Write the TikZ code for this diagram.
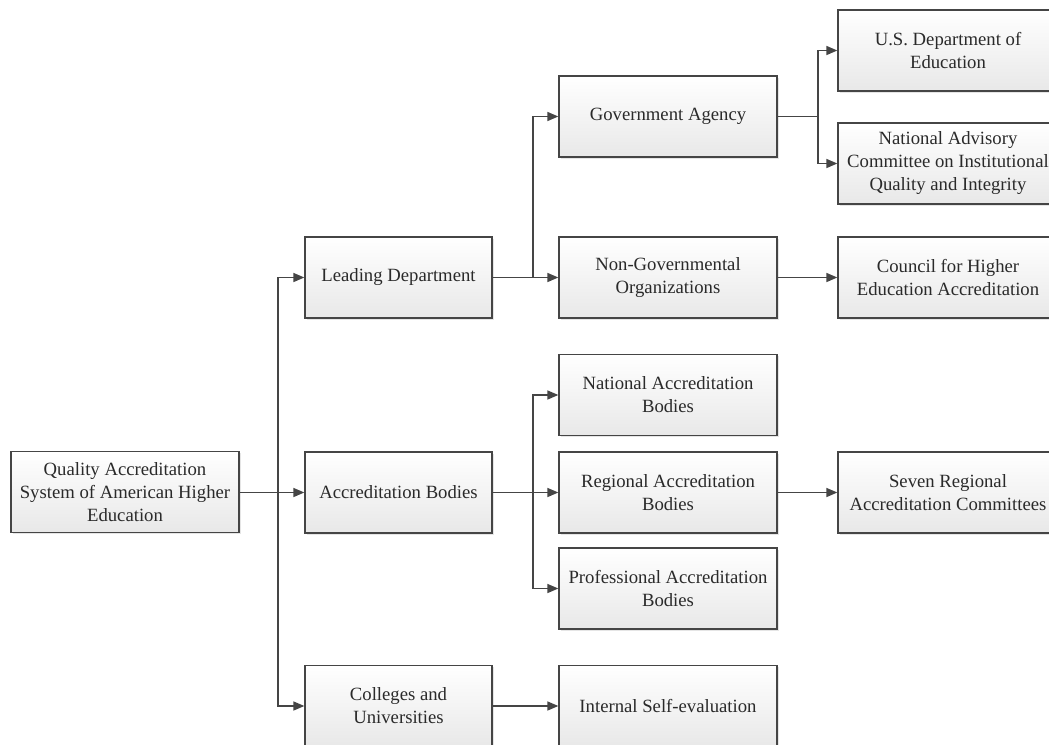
\documentclass[tikz,border=0pt]{standalone}
\usepackage{fontspec}
\setmainfont{Liberation Serif}
\usetikzlibrary{arrows.meta,shadows}
\definecolor{edge}{HTML}{454545}
\definecolor{txt}{HTML}{2A2A2A}
\tikzset{
  box/.style={draw=edge, line width=1.3pt, top color=white, bottom color=black!9,
    minimum height=81pt, align=center, inner sep=2pt, text=txt,
    font=\fontsize{18.7pt}{23pt}\selectfont,
    drop shadow={opacity=0.2, shadow xshift=1.5pt, shadow yshift=-1.5pt}},
  b1/.style={box, minimum width=228pt},
  b2/.style={box, minimum width=187pt},
  b3/.style={box, minimum width=218pt},
  b4/.style={box, minimum width=220pt},
  arr/.style={draw=edge, line width=1.5pt, -{Triangle[length=11pt,width=9pt]}},
  ln/.style={draw=edge, line width=1.5pt}
}
\begin{document}
\begin{tikzpicture}[x=1pt,y=-1pt]
\useasboundingbox (0,0) rectangle (1049,744);
\clip (0,0) rectangle (1049,744);
\fill[white] (0,0) rectangle (1049,744);
% column 1
\node[b1] (root) at (125,492) {Quality Accreditation\\System of American Higher\\Education};
% column 2
\node[b2] (lead) at (398.5,277.5) {Leading Department};
\node[b2] (acc) at (398.5,492.5) {Accreditation Bodies};
\node[b2] (coll) at (398.5,706) {Colleges and\\Universities};
% column 3
\node[b3] (gov) at (668,116.5) {Government Agency};
\node[b3] (ngo) at (668,277.5) {Non-Governmental\\Organizations};
\node[b3] (nab) at (668,395) {National Accreditation\\Bodies};
\node[b3] (rab) at (668,492.5) {Regional Accreditation\\Bodies};
\node[b3] (pab) at (668,588.5) {Professional Accreditation\\Bodies};
\node[b3] (ise) at (668,706) {Internal Self-evaluation};
% column 4
\node[b4] (usd) at (948,50.5) {U.S. Department of\\Education};
\node[b4] (nac) at (948,163.5) {National Advisory\\Committee on Institutional\\Quality and Integrity};
\node[b4] (che) at (948,277.5) {Council for Higher\\Education Accreditation};
\node[b4] (srac) at (948,492.5) {Seven Regional\\Accreditation Committees};
% junctions
\coordinate (j1) at (278,492.5);
\coordinate (j2) at (533,277.5);
\coordinate (j3) at (818,116.5);
\coordinate (j4) at (533,492.5);
% connectors
\draw[arr] (root.east |- j1) -- (acc.west);
\draw[arr] (j1) |- (lead.west);
\draw[arr] (j1) |- (coll.west);
\draw[arr] (lead.east) -- (ngo.west);
\draw[arr] (j2) |- (gov.west);
\draw[ln] (gov.east) -- (j3);
\draw[arr] (j3) |- (usd.west);
\draw[arr] (j3) |- (nac.west);
\draw[arr] (ngo.east) -- (che.west);
\draw[arr] (acc.east) -- (rab.west);
\draw[arr] (j4) |- (nab.west);
\draw[arr] (j4) |- (pab.west);
\draw[arr] (rab.east) -- (srac.west);
\draw[arr] (coll.east) -- (ise.west);
\end{tikzpicture}
\end{document}
